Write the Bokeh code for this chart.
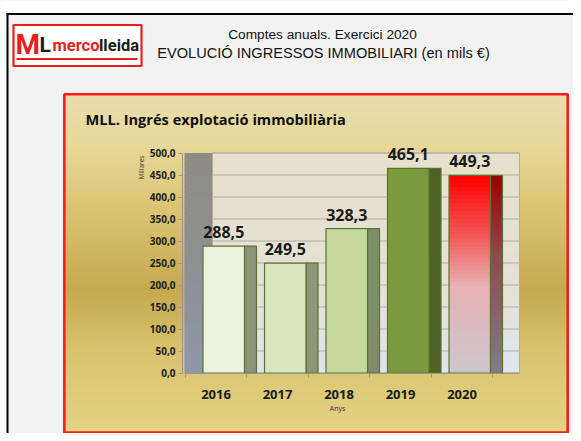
import numpy as np
from bokeh.plotting import figure
from bokeh.models import Range1d, LinearAxis, FixedTicker
from bokeh.core.properties import value
from bokeh.embed import file_html
from bokeh.resources import INLINE

# ---------------- data ----------------
years = ["2016", "2017", "2018", "2019", "2020"]
income = [288.5, 249.5, 328.3, 465.1, 449.3]
income_labels = ["288,5", "249,5", "328,3", "465,1", "449,3"]
y_ticks = [0, 50, 100, 150, 200, 250, 300, 350, 400, 450, 500]
y_tick_labels = ["0,0", "50,0", "100,0", "150,0", "200,0", "250,0",
                 "300,0", "350,0", "400,0", "450,0", "500,0"]

front_colors = ["#edf2df", "#d8e6bd", "#c4d99b", "#7a9a3d", None]
side_colors = ["#8b9579", "#8c9679", "#7e8c67", "#4e6127", None]

# ---------------- geometry helpers ----------------
W, H = 573, 433
OX, OY = 0, 0
X0, DX = 215.5, 61.5
Y0, KY = 372.5, 0.44


def px2u(px):
    return (px - X0) / DX


def py2v(py):
    return (Y0 - py) / KY


def h2rgb(h):
    h = h.lstrip("#")
    return [int(h[i:i + 2], 16) for i in (0, 2, 4)]


def interp(stops, t):
    for (t0, c0), (t1, c1) in zip(stops[:-1], stops[1:]):
        if t <= t1:
            f = 0 if t1 == t0 else (t - t0) / (t1 - t0)
            f = min(max(f, 0), 1)
            a, b = h2rgb(c0), h2rgb(c1)
            return "#%02x%02x%02x" % tuple(int(round(a[k] + (b[k] - a[k]) * f)) for k in range(3))
    return stops[-1][1]


p = figure(width=W, height=H,
           x_range=Range1d(px2u(OX), px2u(OX + W)),
           y_range=Range1d(py2v(OY + H), py2v(OY)),
           output_backend="svg", toolbar_location=None,
           x_axis_location=None, y_axis_location=None,
           min_border=0, background_fill_color="#f2f2f2",
           border_fill_color="#f2f2f2", outline_line_color=None)
p.xgrid.visible = False
p.ygrid.visible = False
p.extra_x_ranges = {"px": Range1d(OX, OX + W)}
p.extra_y_ranges = {"px": Range1d(OY + H, OY)}
PX = dict(x_range_name="px", y_range_name="px")

# page frame
p.quad(left=[OX], right=[OX + W], top=[OY], bottom=[12.5], fill_color="white", line_color=None, **PX)
p.quad(left=[OX], right=[6], top=[OY], bottom=[OY + H], fill_color="white", line_color=None, **PX)
p.quad(left=[6], right=[OX + W], top=[12.5], bottom=[14.5], fill_color="black", line_color=None, **PX)
p.quad(left=[6], right=[8], top=[12.5], bottom=[OY + H], fill_color="black", line_color=None, **PX)

# logo
p.quad(left=[13], right=[141], top=[24.5], bottom=[65.5], fill_color="white", line_color="#e61e1e", line_width=2.2, **PX)
p.segment(x0=[16], x1=[137], y0=[58.5], y1=[58.5], line_color="#e61e1e", line_width=2.2, **PX)
p.text(x=[15], y=[44], text=["M"], text_color="#e61e1e", text_font=value("Roboto"),
       text_font_style="bold", text_font_size="28px", text_baseline="middle", **PX)
p.text(x=[39], y=[44], text=["L"], text_color="#1a1a1a", text_font=value("Roboto"),
       text_font_style="bold", text_font_size="21px", text_baseline="middle", **PX)
p.text(x=[52], y=[45], text=["merco"], text_color="#e61e1e", text_font=value("Roboto"),
       text_font_style="bold", text_font_size="16.5px", text_baseline="middle", **PX)
p.text(x=[98.5], y=[45], text=["lleida"], text_color="#1a1a1a", text_font=value("Roboto"),
       text_font_style="bold", text_font_size="16.5px", text_baseline="middle", **PX)

# titles
p.text(x=[322], y=[33.5], text=["Comptes anuals. Exercici 2020"], text_color="#111111",
       text_font=value("Liberation Sans"), text_font_size="13.7px",
       text_align="center", text_baseline="middle", **PX)
p.text(x=[323], y=[52], text=["EVOLUCIÓ INGRESSOS IMMOBILIARI (en mils €)"], text_color="#111111",
       text_font=value("Liberation Sans"), text_font_size="14.6px",
       text_align="center", text_baseline="middle", **PX)

# gold panel gradient
gold = [(93, "#e9ddad"), (150, "#e6d796"), (210, "#dac372"), (290, "#c6a94e"),
        (350, "#d8c36e"), (433, "#e4d386")]
ys = np.arange(93, 433, 3.0)
p.quad(left=64, right=567, top=list(ys), bottom=list(ys + 3.8),
       fill_color=[interp(gold, y + 1.5) for y in ys], line_color=None, **PX)
p.quad(left=[63.8], right=[567.2], top=[93.8], bottom=[432], fill_color=None,
       line_color="#ff1a1a", line_width=2.6, **PX)
p.text(x=[85], y=[118], text=["MLL. Ingrés explotació immobiliària"], text_color="#111111",
       text_font=value("Open Sans"), text_font_style="bold", text_font_size="14.6px",
       text_baseline="middle", **PX)

# chart walls (value coordinates)
vmax = y_ticks[-1]
nb = 40
fr = np.arange(nb) / nb
wall_back = [(0, "#e6e0cc"), (0.6, "#e4e1d6"), (1, "#dde5f1")]
wall_side = [(0, "#8e8c82"), (1, "#8e97a8")]
tops = list(vmax * (1 - fr))
bots = list(np.maximum(vmax * (1 - fr - 1.0 / nb) - 2.0, 0))
p.quad(left=px2u(212), right=px2u(519), top=tops, bottom=bots,
       fill_color=[interp(wall_back, f) for f in fr], line_color=None)
p.quad(left=px2u(184), right=px2u(212), top=tops, bottom=bots,
       fill_color=[interp(wall_side, f) for f in fr], line_color=None)
p.segment(x0=px2u(212), x1=px2u(519), y0=y_ticks, y1=y_ticks, line_color="#b2ae9e", line_width=1.2)
p.quad(left=[px2u(212)], right=[px2u(519)], top=[vmax], bottom=[0], fill_color=None,
       line_color="#b2ae9e", line_width=1)

# bars
xi = np.arange(len(years))
fl, fr_ = xi - 13 / DX, xi + 28.5 / DX
sr = xi + 40.5 / DX
solid = [k for k in range(len(years)) if front_colors[k] is not None]
edge = "#5b7230"
p.quad(left=list(fr_[solid]), right=list(sr[solid]), bottom=0, top=[income[k] for k in solid],
       fill_color=[side_colors[k] for k in solid], line_color=edge, line_width=1.2)
p.quad(left=list(fl[solid]), right=list(fr_[solid]), bottom=0, top=[income[k] for k in solid],
       fill_color=[front_colors[k] for k in solid], line_color=edge, line_width=1.2)

grad_front = [(0, "#ff0000"), (0.3, "#f25a5a"), (0.55, "#e8b0b4"), (1, "#cbc7cd")]
grad_side = [(0, "#a00000"), (0.4, "#8e4a50"), (1, "#7f8082")]
for k in range(len(years)):
    if front_colors[k] is not None:
        continue
    v = income[k]
    nbb = 50
    g = np.arange(nbb) / nbb
    t = list(v * (1 - g))
    b = list(np.maximum(v * (1 - g - 1.0 / nbb) - 2.5, 0))
    p.quad(left=fr_[k], right=sr[k], top=t, bottom=b,
           fill_color=[interp(grad_side, f) for f in g], line_color=None)
    p.quad(left=fl[k], right=fr_[k], top=t, bottom=b,
           fill_color=[interp(grad_front, f) for f in g], line_color=None)
    p.quad(left=[fr_[k]], right=[sr[k]], bottom=[0], top=[v], fill_color=None, line_color=edge, line_width=1.2)
    p.quad(left=[fl[k]], right=[fr_[k]], bottom=[0], top=[v], fill_color=None, line_color=edge, line_width=1.2)

label_y = [v + 14 / KY for v in income]
p.text(x=list(xi + 7.75 / DX), y=label_y, text=income_labels, text_align="center",
       text_baseline="middle", text_color="#1a1a1a",
       text_font=value("Open Sans"), text_font_style="bold", text_font_size="16px")

# axes
yaxis = LinearAxis(fixed_location=px2u(182), bounds=(0, vmax),
                   ticker=FixedTicker(ticks=y_ticks),
                   major_label_overrides={t: l for t, l in zip(y_ticks, y_tick_labels)})
yaxis.axis_line_color = "#9c9888"
yaxis.major_tick_line_color = "#9c9888"
yaxis.major_tick_out = 4
yaxis.major_tick_in = 0
yaxis.minor_tick_line_color = None
yaxis.major_label_standoff = 3
yaxis.major_label_text_font = "Open Sans"
yaxis.major_label_text_font_style = "bold"
yaxis.major_label_text_font_size = "10px"
yaxis.major_label_text_color = "#1a1a1a"
p.add_layout(yaxis, "left")

xaxis = LinearAxis(fixed_location=0, bounds=(px2u(184), px2u(519)),
                   ticker=FixedTicker(ticks=list(xi), minor_ticks=list(np.arange(len(years) + 1) - 0.5)),
                   major_label_overrides={int(i): y for i, y in zip(xi, years)})
xaxis.axis_line_color = "#9c9888"
xaxis.major_tick_line_color = None
xaxis.minor_tick_line_color = "#9c9888"
xaxis.minor_tick_out = 4
xaxis.minor_tick_in = 0
xaxis.major_label_standoff = 11
xaxis.major_label_text_font = "Open Sans"
xaxis.major_label_text_font_style = "bold"
xaxis.major_label_text_font_size = "13px"
xaxis.major_label_text_color = "#1a1a1a"
p.add_layout(xaxis, "below")

p.text(x=[141], y=[167], text=["Millares"], angle=np.pi / 2, text_align="center", text_baseline="middle",
       text_color="#333333", text_font=value("Open Sans"), text_font_size="6.5px", **PX)
p.text(x=[337], y=[408], text=["Anys"], text_align="center", text_baseline="middle",
       text_color="#333333", text_font=value("Open Sans"), text_font_size="7px", **PX)

open("out.html", "w").write(file_html(p, INLINE))
